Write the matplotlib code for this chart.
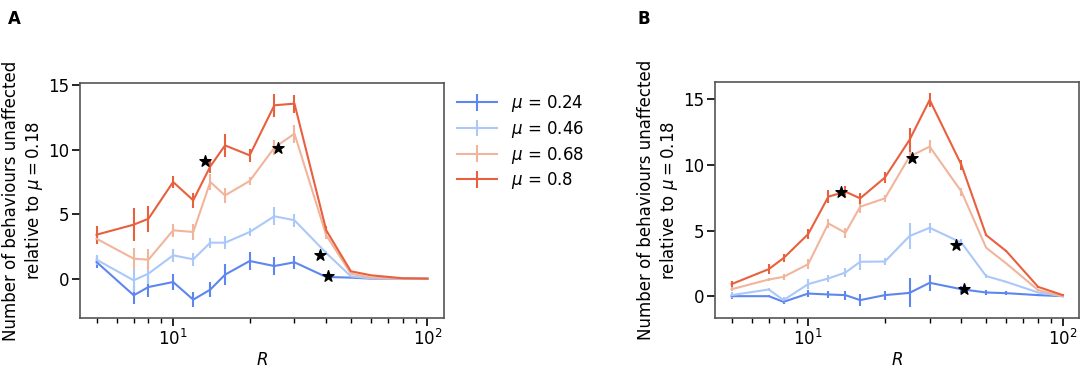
import numpy as np
import matplotlib
matplotlib.use('Agg')
import matplotlib.pyplot as plt

R = [5, 7, 8, 10, 12, 14, 16, 20, 25, 30, 40, 50, 60, 80, 100]
labels = ['$\\mu$ = 0.24', '$\\mu$ = 0.46', '$\\mu$ = 0.68', '$\\mu$ = 0.8']
colors = ['#5d87ee', '#abc8fb', '#f1b59c', '#e8603e']

# Panel A
a_mean = [
    [1.29, -1.29, -0.65, -0.26, -1.63, -0.85, 0.31, 1.37, 0.98, 1.27, 0.13, 0.08, 0.0, 0.0, 0.0],
    [1.47, -0.13, 0.39, 1.81, 1.5, 2.79, 2.79, 3.62, 4.84, 4.53, 1.99, 0.18, 0.02, 0.0, 0.0],
    [3.1, 1.55, 1.47, 3.75, 3.62, 7.5, 6.46, 7.58, 10.16, 11.25, 3.36, 0.39, 0.08, 0.0, 0.0],
    [3.41, 4.19, 4.65, 7.5, 6.08, 8.71, 10.34, 9.57, 13.45, 13.58, 3.75, 0.57, 0.26, 0.03, 0.0],
]
a_err = [
    [0.5, 0.7, 0.8, 0.6, 0.6, 0.6, 0.8, 0.7, 0.7, 0.5, 0.1, 0.05, 0.02, 0.0, 0.0],
    [0.4, 0.9, 0.8, 0.5, 0.5, 0.4, 0.5, 0.3, 0.7, 0.5, 0.15, 0.05, 0.02, 0.0, 0.0],
    [0.3, 0.8, 0.8, 0.5, 0.6, 0.6, 0.6, 0.3, 0.6, 0.7, 0.3, 0.05, 0.02, 0.0, 0.0],
    [0.7, 1.3, 1.0, 0.5, 0.6, 0.5, 0.9, 0.5, 0.9, 0.7, 0.3, 0.05, 0.02, 0.0, 0.0],
]
a_star_x = [13.3, 25.8, 37.9, 40.7]
a_star_y = [9.13, 10.16, 1.86, 0.18]

# Panel B
b_mean = [
    [0.0, 0.0, -0.43, 0.2, 0.13, 0.08, -0.3, 0.08, 0.25, 1.02, 0.53, 0.28, 0.23, 0.08, 0.0],
    [0.08, 0.51, -0.3, 0.92, 1.35, 1.8, 2.62, 2.64, 4.58, 5.21, 4.07, 1.53, 1.09, 0.28, 0.0],
    [0.53, 1.27, 1.47, 2.44, 5.54, 4.83, 6.81, 7.45, 10.63, 11.39, 7.96, 3.69, 2.49, 0.46, 0.0],
    [0.92, 2.06, 2.9, 4.73, 7.58, 7.96, 7.45, 9.03, 11.9, 14.95, 9.99, 4.65, 3.43, 0.71, 0.08],
]
b_err = [
    [0.25, 0.1, 0.2, 0.3, 0.3, 0.35, 0.45, 0.35, 1.1, 0.6, 0.25, 0.2, 0.15, 0.05, 0.0],
    [0.25, 0.1, 0.2, 0.4, 0.3, 0.35, 0.6, 0.3, 1.0, 0.4, 0.25, 0.15, 0.1, 0.05, 0.0],
    [0.15, 0.1, 0.2, 0.4, 0.35, 0.4, 0.5, 0.25, 0.4, 0.5, 0.3, 0.05, 0.05, 0.05, 0.0],
    [0.25, 0.4, 0.3, 0.4, 0.5, 0.45, 0.4, 0.4, 0.9, 0.55, 0.4, 0.05, 0.05, 0.05, 0.05],
]
b_star_x = [13.5, 25.6, 38.1, 41.1]
b_star_y = [7.9, 10.5, 3.89, 0.51]

plt.rcParams['font.size'] = 12

fig = plt.figure(figsize=(10.84, 3.69), dpi=100)
ax1 = fig.add_axes([0.0738, 0.138, 0.3358, 0.637])
ax2 = fig.add_axes([0.6596, 0.138, 0.3361, 0.640])


def draw_panel(ax, means, errs, sx, sy):
    for m, e, c, lab in zip(means, errs, colors, labels):
        ax.errorbar(R, m, yerr=e, color=c, lw=1.5, elinewidth=1.5, label=lab)
    ax.scatter(sx, sy, marker='*', s=70, color='black', zorder=5)
    ax.set_xscale('log')
    ax.set_xlabel('$R$', labelpad=1)
    ax.set_ylabel('Number of behaviours unaffected\nrelative to $\\mu = 0.18$', labelpad=2)
    ax.set_yticks([0, 5, 10, 15])
    for s in ax.spines.values():
        s.set_color('#555555')
        s.set_linewidth(1.2)
    ax.tick_params(which='major', length=6, width=1.2, pad=2)
    ax.tick_params(which='minor', length=3.5, width=1.0)


draw_panel(ax1, a_mean, a_err, a_star_x, a_star_y)
draw_panel(ax2, b_mean, b_err, b_star_x, b_star_y)

ax1.legend(loc='upper left', bbox_to_anchor=(0.995, 1.02), frameon=False,
           handlelength=2.4, labelspacing=0.28)

fig.text(0.007, 0.935, 'A', fontsize=12, fontweight='bold')
fig.text(0.588, 0.935, 'B', fontsize=12, fontweight='bold')

plt.savefig('out.png', dpi=100)
